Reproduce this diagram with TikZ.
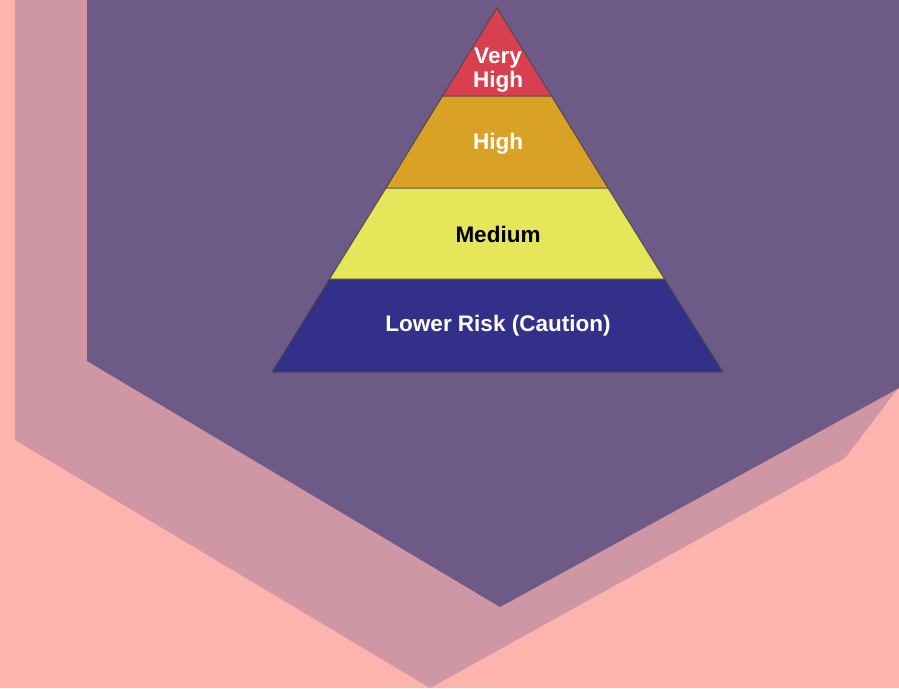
\documentclass[tikz,border=0pt]{standalone}
\usepackage{fontspec}
\setmainfont{Liberation Sans}
\definecolor{bgpink}{HTML}{FDB3AE}
\definecolor{mauve}{HTML}{CF96A3}
\definecolor{purp}{HTML}{6E5A87}
\definecolor{lred}{HTML}{D9404F}
\definecolor{lorange}{HTML}{D9A126}
\definecolor{lyellow}{HTML}{E5E65A}
\definecolor{lblue}{HTML}{33308A}
\definecolor{edge}{HTML}{4A4A4A}
\tikzset{
  layer/.style={draw=edge, line width=0.9pt, line join=miter},
  lbl/.style={font=\fontsize{22.5}{24.5}\selectfont\bfseries, align=center, inner sep=0pt},
}
\begin{document}
\begin{tikzpicture}[x=1pt,y=-1pt]
\useasboundingbox (0,0) rectangle (899,688);
\fill[bgpink] (0,0) rectangle (899,688);
\fill[mauve] (15,0) -- (15,440) -- (430,688) -- (845,458) -- (899,387) -- (899,0) -- cycle;
\fill[purp] (87,0) -- (87,361) -- (500,607) -- (899,388) -- (899,0) -- cycle;
% pyramid: apex (497,8), base y=372 from 272 to 723
\coordinate (apex) at (497,8);
\coordinate (bl) at (272,372);
\coordinate (br) at (723,372);
\path[layer, fill=lblue] (329.5,279) -- (664.5,279) -- (br) -- (bl) -- cycle;
\path[layer, fill=lyellow] (386,188) -- (608,188) -- (664.5,279) -- (329.5,279) -- cycle;
\path[layer, fill=lorange] (442.5,96) -- (551.5,96) -- (608,188) -- (386,188) -- cycle;
\path[layer, fill=lred] (apex) -- (551.5,96) -- (442.5,96) -- cycle;
\node[lbl, text=white] (vh) at (498,70) {Very\\High};
\node[lbl, text=white] (hi) at (498,144) {High};
\node[lbl, text=black] (me) at (498,234) {Medium};
\node[lbl, text=white] (lo) at (498,326) {Lower Risk (Caution)};
\end{tikzpicture}
\end{document}
